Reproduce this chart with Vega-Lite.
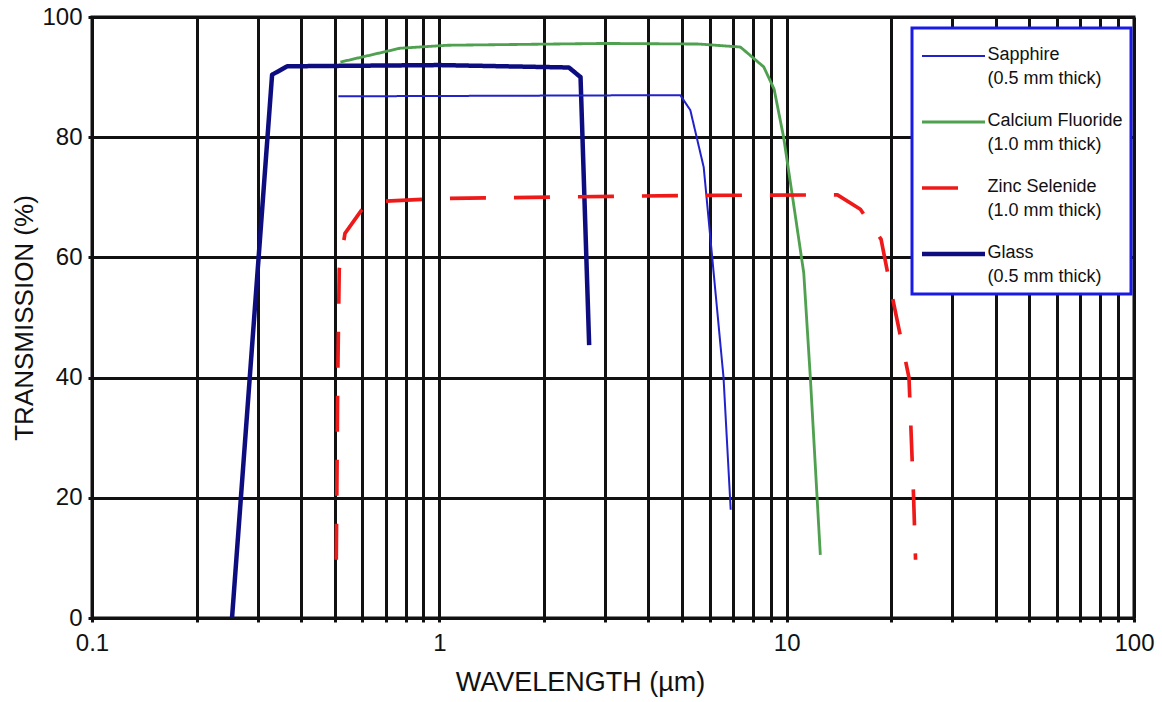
{
  "$schema": "https://vega.github.io/schema/vega-lite/v6.json",
  "width": 1042,
  "height": 601,
  "autosize": {"type": "none"},
  "padding": {"left": 92, "top": 17, "right": 28, "bottom": 84},
  "background": "white",
  "config": {
    "font": "Liberation Sans",
    "view": {"stroke": "#111111", "strokeWidth": 3},
    "legend": {"strokeColor": "#1a1ae6", "strokeWidth": 3, "fillColor": "white"}
  },
  "data": {
    "values": [
      {"series": "Glass|(0.5 mm thick)", "wl": 0.253, "t": 0},
      {"series": "Glass|(0.5 mm thick)", "wl": 0.330, "t": 90.4},
      {"series": "Glass|(0.5 mm thick)", "wl": 0.365, "t": 91.8},
      {"series": "Glass|(0.5 mm thick)", "wl": 1.0, "t": 92.0},
      {"series": "Glass|(0.5 mm thick)", "wl": 2.36, "t": 91.6},
      {"series": "Glass|(0.5 mm thick)", "wl": 2.55, "t": 90.0},
      {"series": "Glass|(0.5 mm thick)", "wl": 2.70, "t": 45.4},
      {"series": "Sapphire|(0.5 mm thick)", "wl": 0.512, "t": 86.8},
      {"series": "Sapphire|(0.5 mm thick)", "wl": 4.94, "t": 87.0},
      {"series": "Sapphire|(0.5 mm thick)", "wl": 5.28, "t": 84.5},
      {"series": "Sapphire|(0.5 mm thick)", "wl": 5.77, "t": 75.0},
      {"series": "Sapphire|(0.5 mm thick)", "wl": 6.15, "t": 58.0},
      {"series": "Sapphire|(0.5 mm thick)", "wl": 6.58, "t": 40.0},
      {"series": "Sapphire|(0.5 mm thick)", "wl": 6.90, "t": 18.0},
      {"series": "Calcium Fluoride|(1.0 mm thick)", "wl": 0.519, "t": 92.5},
      {"series": "Calcium Fluoride|(1.0 mm thick)", "wl": 0.77, "t": 94.8},
      {"series": "Calcium Fluoride|(1.0 mm thick)", "wl": 1.06, "t": 95.3},
      {"series": "Calcium Fluoride|(1.0 mm thick)", "wl": 3.0, "t": 95.6},
      {"series": "Calcium Fluoride|(1.0 mm thick)", "wl": 5.6, "t": 95.5},
      {"series": "Calcium Fluoride|(1.0 mm thick)", "wl": 7.36, "t": 95.0},
      {"series": "Calcium Fluoride|(1.0 mm thick)", "wl": 8.59, "t": 91.7},
      {"series": "Calcium Fluoride|(1.0 mm thick)", "wl": 9.2, "t": 88.0},
      {"series": "Calcium Fluoride|(1.0 mm thick)", "wl": 9.8, "t": 80.0},
      {"series": "Calcium Fluoride|(1.0 mm thick)", "wl": 10.5, "t": 68.4},
      {"series": "Calcium Fluoride|(1.0 mm thick)", "wl": 11.2, "t": 57.4},
      {"series": "Calcium Fluoride|(1.0 mm thick)", "wl": 11.7, "t": 40.0},
      {"series": "Calcium Fluoride|(1.0 mm thick)", "wl": 12.5, "t": 10.5},
      {"series": "Zinc Selenide|(1.0 mm thick)", "wl": 0.505, "t": 9.7},
      {"series": "Zinc Selenide|(1.0 mm thick)", "wl": 0.51, "t": 40.0},
      {"series": "Zinc Selenide|(1.0 mm thick)", "wl": 0.515, "t": 58.0},
      {"series": "Zinc Selenide|(1.0 mm thick)", "wl": 0.535, "t": 64.0},
      {"series": "Zinc Selenide|(1.0 mm thick)", "wl": 0.62, "t": 69.2},
      {"series": "Zinc Selenide|(1.0 mm thick)", "wl": 1.0, "t": 69.8},
      {"series": "Zinc Selenide|(1.0 mm thick)", "wl": 5.0, "t": 70.3},
      {"series": "Zinc Selenide|(1.0 mm thick)", "wl": 14.0, "t": 70.4},
      {"series": "Zinc Selenide|(1.0 mm thick)", "wl": 16.3, "t": 68.0},
      {"series": "Zinc Selenide|(1.0 mm thick)", "wl": 18.7, "t": 63.0},
      {"series": "Zinc Selenide|(1.0 mm thick)", "wl": 20.3, "t": 52.5},
      {"series": "Zinc Selenide|(1.0 mm thick)", "wl": 22.5, "t": 40.0},
      {"series": "Zinc Selenide|(1.0 mm thick)", "wl": 23.2, "t": 20.0},
      {"series": "Zinc Selenide|(1.0 mm thick)", "wl": 23.5, "t": 9.7}
    ]
  },
  "mark": {"type": "line", "strokeCap": "butt", "strokeJoin": "round"},
  "encoding": {
    "x": {
      "field": "wl", "type": "quantitative",
      "scale": {"type": "log", "domain": [0.1, 100], "nice": false},
      "axis": {
        "values": [0.1,0.2,0.3,0.4,0.5,0.6,0.7,0.8,0.9,1,2,3,4,5,6,7,8,9,10,20,30,40,50,60,70,80,90,100],
        "labelExpr": "datum.value == 0.1 || datum.value == 1 || datum.value == 10 || datum.value == 100 ? datum.label : ''",
        "title": "WAVELENGTH (µm)",
        "titleFontSize": 27, "titleFontWeight": "normal", "titleColor": "#111111", "titlePadding": 14,
        "titleX": 488, "titleAlign": "center",
        "labelFontSize": 24, "labelColor": "#111111", "labelPadding": 9, "labelFlush": false, "labelOverlap": false,
        "grid": true, "gridColor": "#111111", "gridWidth": 3, "gridOpacity": 1,
        "domainColor": "#111111", "domainWidth": 3,
        "tickColor": "#111111", "tickWidth": 3, "tickSize": 4
      }
    },
    "y": {
      "field": "t", "type": "quantitative",
      "scale": {"domain": [0, 100], "nice": false},
      "axis": {
        "values": [0, 20, 40, 60, 80, 100],
        "title": "TRANSMISSION (%)",
        "titleFontSize": 26, "titleFontWeight": "normal", "titleColor": "#111111", "titlePadding": 4,
        "labelFontSize": 24, "labelColor": "#111111", "labelPadding": 6, "labelFlush": false,
        "grid": true, "gridColor": "#111111", "gridWidth": 3, "gridOpacity": 1,
        "domainColor": "#111111", "domainWidth": 3,
        "tickColor": "#111111", "tickWidth": 3, "tickSize": 4
      }
    },
    "color": {
      "field": "series", "type": "nominal",
      "scale": {
        "domain": ["Sapphire|(0.5 mm thick)", "Calcium Fluoride|(1.0 mm thick)", "Zinc Selenide|(1.0 mm thick)", "Glass|(0.5 mm thick)"],
        "range": ["#2222cc", "#4fa04f", "#ee1a1a", "#0d0d80"]
      },
      "legend": {
        "title": null,
        "orient": "none", "legendX": 820, "legendY": 11,
        "symbolType": "stroke", "symbolSize": 3969,
        "labelExpr": "split(datum.label, '|')",
        "labelFontSize": 18, "labelColor": "#111111", "labelOffset": 0, "labelLimit": 300,
        "padding": 7.5, "rowPadding": 13,
        "labelBaseline": "top",
        "encode": {
          "labels": {"update": {"y": {"value": 20.5}, "dy": {"value": -10}, "lineHeight": {"value": 24}}},
          "symbols": {"update": {"y": {"value": 20.5}, "strokeDash": [{"test": "indexof(datum.value, 'Zinc') >= 0", "value": [10, 7]}, {"value": [1, 0]}]}}
        }
      }
    },
    "strokeWidth": {
      "field": "series", "type": "nominal",
      "scale": {
        "domain": ["Sapphire|(0.5 mm thick)", "Calcium Fluoride|(1.0 mm thick)", "Zinc Selenide|(1.0 mm thick)", "Glass|(0.5 mm thick)"],
        "range": [2, 4.5, 8, 5.5]
      }
    },
    "strokeDash": {
      "field": "series", "type": "nominal",
      "legend": null,
      "scale": {
        "domain": ["Sapphire|(0.5 mm thick)", "Calcium Fluoride|(1.0 mm thick)", "Zinc Selenide|(1.0 mm thick)", "Glass|(0.5 mm thick)"],
        "range": [[1, 0], [1, 0], [36, 28], [1, 0]]
      }
    }
  }
}
